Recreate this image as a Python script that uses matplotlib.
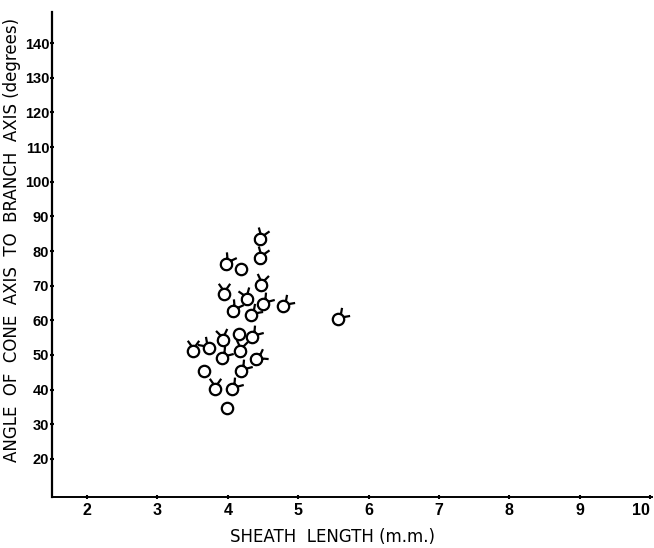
import numpy as np
import matplotlib
matplotlib.use("Agg")
import matplotlib.pyplot as plt
from matplotlib.path import Path
from matplotlib.markers import MarkerStyle

# sheath length (mm), angle (degrees), horn direction (deg clockwise from up, None = plain circle)
sheath = [4.46, 4.46, 3.97, 4.19, 4.47, 3.95, 4.27, 4.50, 4.78, 4.07, 4.33, 5.57,
          4.16, 4.34, 3.93, 3.73, 3.51, 4.17, 3.92, 4.40, 3.66, 4.19, 3.82, 4.06, 3.99]
angle = [83.5, 78.0, 76.3, 74.8, 70.3, 67.7, 66.2, 64.8, 64.2, 62.8, 61.6, 60.5,
         56.1, 55.3, 54.4, 52.1, 51.0, 51.0, 49.2, 48.9, 45.5, 45.5, 40.3, 40.3, 34.8]
horn = [20, 20, 30, None, 10, 0, -20, 40, 45, 30, 45, 45,
        None, 40, -10, -45, 0, 10, 40, 60, None, 40, 0, 40, None]

x_ticks = [2, 3, 4, 5, 6, 7, 8, 9, 10]
y_ticks = [20, 30, 40, 50, 60, 70, 80, 90, 100, 110, 120, 130, 140]

# circle with two little horns on top (unrotated, pointing up)
circ = Path.unit_circle()
a0 = np.radians(20)   # where the horns leave the circle
a1 = np.radians(35)   # spread of each horn from vertical
L = 1.15
sx, sy = np.sin(a0), np.cos(a0)
dx, dy = L * np.sin(a1), L * np.cos(a1)
left = Path([(-sx, sy), (-sx - dx, sy + dy)], [Path.MOVETO, Path.LINETO])
right = Path([(sx, sy), (sx + dx, sy + dy)], [Path.MOVETO, Path.LINETO])
horn_path = Path.make_compound_path(circ, left, right)
hmax = np.max(np.abs(horn_path.vertices))

circle_ms = 8.2
horn_ms = circle_ms * hmax

fig = plt.figure(figsize=(6.54, 5.48), dpi=100)
ax = fig.add_axes([0.0795, 0.0931, 0.9174, 0.885])

for x, y, h in zip(sheath, angle, horn):
    if h is None:
        ax.plot(x, y, marker='o', ms=circle_ms, mfc='none', mec='black', mew=1.6)
    else:
        m = MarkerStyle(horn_path).rotated(deg=-h)
        ax.plot(x, y, marker=m, ms=horn_ms, mfc='none', mec='black', mew=1.6)

ax.set_xlim(1.5, 10.03)
ax.set_ylim(9, 149)
ax.set_xticks(x_ticks)
ax.set_yticks(y_ticks)
ax.spines['top'].set_visible(False)
ax.spines['right'].set_visible(False)
ax.spines['left'].set_linewidth(1.6)
ax.spines['bottom'].set_linewidth(1.4)
ax.tick_params(direction='inout', length=3, width=1.5, pad=3)
ax.tick_params(axis='y', pad=0.5)
for lab in ax.get_xticklabels():
    lab.set_fontweight('bold')
    lab.set_family(['Liberation Sans', 'DejaVu Sans'])
    lab.set_fontsize(11.5)
for lab in ax.get_yticklabels():
    lab.set_fontweight('bold')
    lab.set_family(['Liberation Sans', 'DejaVu Sans'])
    lab.set_fontsize(10.5)
ax.get_xticklabels()[-1].set_horizontalalignment('right')

ax.set_xlabel("SHEATH  LENGTH (m.m.)", fontsize=12)
ax.set_ylabel("ANGLE  OF  CONE  AXIS  TO  BRANCH  AXIS (degrees)", fontsize=12)
ax.xaxis.set_label_coords(0.468, -0.064)
ax.yaxis.set_label_coords(-0.052, 0.53)

fig.savefig("out.png", dpi=100)
